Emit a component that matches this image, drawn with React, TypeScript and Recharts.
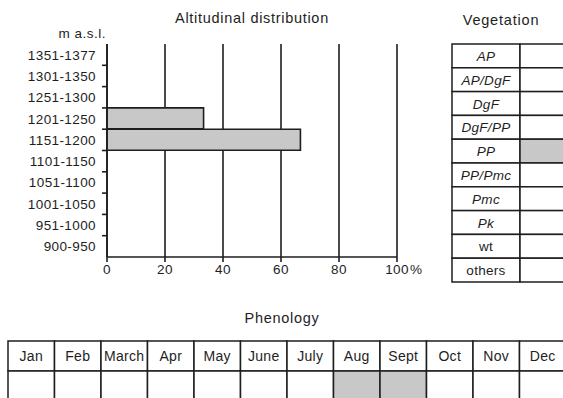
import { BarChart, Bar, XAxis, YAxis, CartesianGrid } from 'recharts';

// altitude classes, top to bottom
const ranges = ['1351-1377', '1301-1350', '1251-1300', '1201-1250', '1151-1200', '1101-1150', '1051-1100', '1001-1050', '951-1000', '900-950'];
const shares = [0, 0, 0, 33.3, 66.7, 0, 0, 0, 0, 0];
const xTicks = [0, 20, 40, 60, 80, 100];

const vegTypes = ['AP', 'AP/DgF', 'DgF', 'DgF/PP', 'PP', 'PP/Pmc', 'Pmc', 'Pk', 'wt', 'others'];
const vegItalic = [true, true, true, true, true, true, true, true, false, false];
const vegPresent = [false, false, false, false, true, false, false, false, false, false];

const months = ['Jan', 'Feb', 'March', 'Apr', 'May', 'June', 'July', 'Aug', 'Sept', 'Oct', 'Nov', 'Dec'];
const monthPresent = [false, false, false, false, false, false, false, true, true, false, false, false];

const FONT = '"Liberation Sans", Arial, Helvetica, sans-serif';
const INK = '#1e1e1e';
const FILL = '#c8c8c8';

const data = ranges.map((r, i) => ({ range: r, share: shares[i] }));

const YTick = (props: any) => {
  const { x, y, payload, index } = props;
  const axisX = x + 11;
  const half = payload?.offset || 10.65;
  return (
    <g>
      <text x={x} y={y} dy={5} textAnchor="end" fontSize={13.5} letterSpacing={0.4} fill={INK} fontFamily={FONT}>
        {payload.value}
      </text>
      {index > 0 && <line x1={axisX - 5} x2={axisX} y1={y - half} y2={y - half} stroke={INK} strokeWidth={1.6} />}
    </g>
  );
};

const XTick = (props: any) => {
  const { x, y, payload } = props;
  return (
    <g>
      <text x={x} y={y} dy={7.5} textAnchor="middle" fontSize={13.5} letterSpacing={0.4} fill={INK} fontFamily={FONT}>
        {payload.value}
      </text>
      {payload.value === 100 && (
        <text x={x + 13} y={y} dy={7.5} textAnchor="start" fontSize={13.5} fill={INK} fontFamily={FONT}>%</text>
      )}
    </g>
  );
};

function VegTable() {
  const left = 452, top = 44, w1 = 68, w2 = 60, rh = 23.8;
  return (
    <g>
      {vegTypes.map((t, i) => (
        <g key={t}>
          <rect x={left} y={top + i * rh} width={w1} height={rh} fill="#fff" stroke={INK} strokeWidth={1.5} />
          <rect x={left + w1} y={top + i * rh} width={w2} height={rh} fill={vegPresent[i] ? FILL : '#fff'} stroke={INK} strokeWidth={1.5} />
          <text x={left + w1 / 2} y={top + i * rh + rh / 2} dy={5} textAnchor="middle" fontSize={13.5} letterSpacing={0.3}
            fontStyle={vegItalic[i] ? 'italic' : 'normal'} fill={INK} fontFamily={FONT}>{t}</text>
        </g>
      ))}
    </g>
  );
}

function PhenoTable() {
  const left = 8, top = 341, cw = 46.5, rh = 30;
  return (
    <g>
      {months.map((m, i) => (
        <g key={m}>
          <rect x={left + i * cw} y={top} width={cw} height={rh} fill="#fff" stroke={INK} strokeWidth={1.5} />
          <rect x={left + i * cw} y={top + rh} width={cw} height={rh} fill={monthPresent[i] ? FILL : '#fff'} stroke={INK} strokeWidth={1.5} />
          <text x={left + i * cw + cw / 2} y={top + rh / 2} dy={5} textAnchor="middle" fontSize={14} letterSpacing={0.3} fill={INK} fontFamily={FONT}>{m}</text>
        </g>
      ))}
    </g>
  );
}

export default function App() {
  return (
    <div style={{ position: 'fixed', left: 0, top: 0, width: 563, height: 398, background: '#fff', overflow: 'hidden', fontFamily: FONT }}>
      <svg width={563} height={398} style={{ position: 'absolute', left: 0, top: 0 }}>
        <text x={252} y={23} textAnchor="middle" fontSize={14.5} letterSpacing={0.7} fill={INK} fontFamily={FONT}>Altitudinal distribution</text>
        <text x={106} y={38} textAnchor="end" fontSize={13.5} letterSpacing={0.5} fill={INK} fontFamily={FONT}>m a.s.l.</text>
        <text x={501} y={25} textAnchor="middle" fontSize={14.5} letterSpacing={0.8} fill={INK} fontFamily={FONT}>Vegetation</text>
        <text x={282} y={323} textAnchor="middle" fontSize={14.5} letterSpacing={0.7} fill={INK} fontFamily={FONT}>Phenology</text>
        <VegTable />
        <PhenoTable />
      </svg>
      <div style={{ position: 'absolute', left: 0, top: 0 }}>
        <BarChart width={440} height={300} data={data} layout="vertical"
          margin={{ top: 44, right: 43, bottom: 12, left: 0 }} barCategoryGap={0} barGap={0}>
          <CartesianGrid horizontal={false} stroke={INK} strokeWidth={1.6} />
          <XAxis type="number" domain={[0, 100]} ticks={xTicks} height={31} tickSize={5} tickMargin={4}
            axisLine={{ stroke: INK, strokeWidth: 1.6 }} tickLine={{ stroke: INK, strokeWidth: 1.6 }} tick={<XTick />} />
          <XAxis xAxisId="top" orientation="top" type="number" domain={[0, 100]} height={0}
            tick={false} tickLine={false} axisLine={{ stroke: INK, strokeWidth: 1.6 }} />
          <YAxis type="category" dataKey="range" width={107} tickSize={5} tickMargin={6} tickLine={false}
            axisLine={{ stroke: INK, strokeWidth: 1.6 }} tick={<YTick />} interval={0} />
          <Bar dataKey="share" fill={FILL} stroke={INK} strokeWidth={1.6} isAnimationActive={false} />
        </BarChart>
      </div>
    </div>
  );
}
